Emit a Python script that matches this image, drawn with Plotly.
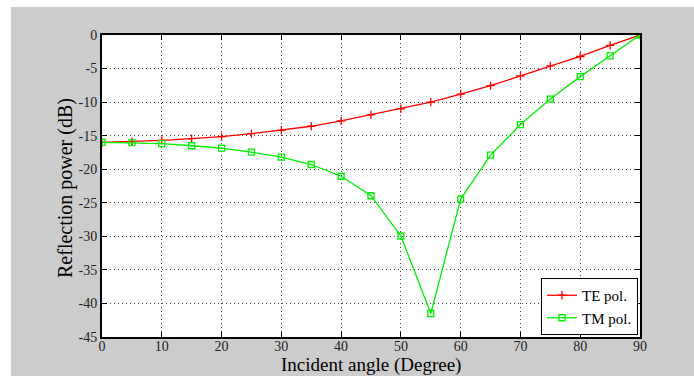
import plotly.graph_objects as go

angles = [0, 5, 10, 15, 20, 25, 30, 35, 40, 45, 50, 55, 60, 65, 70, 75, 80, 85, 90]
te_db = [-16.0, -15.9, -15.7, -15.45, -15.15, -14.7, -14.2, -13.6, -12.8, -11.9,
         -11.0, -10.0, -8.8, -7.55, -6.1, -4.6, -3.2, -1.55, 0.0]
tm_db = [-16.0, -16.05, -16.2, -16.5, -16.85, -17.45, -18.2, -19.3, -21.05, -23.95,
         -29.95, -41.5, -24.45, -17.9, -13.35, -9.55, -6.2, -3.1, 0.0]
x_ticks = list(range(0, 91, 10))
y_ticks = list(range(-45, 1, 5))
x_title = "Incident angle (Degree)"
y_title = "Reflection power (dB)"

W, H = 694, 376
L, R, T, B = 102, 640, 35, 337
pw, ph = R - L, B - T
SERIF = "Liberation Serif"

fig = go.Figure()
fig.add_trace(go.Scatter(x=angles, y=te_db, mode="lines+markers", name="TE pol.",
                         line=dict(color="#ff0000", width=1.3),
                         marker=dict(symbol="cross-thin", size=6, line=dict(color="#ff0000", width=1.3))))
fig.add_trace(go.Scatter(x=angles, y=tm_db, mode="lines+markers", name="TM pol.",
                         line=dict(color="#00ee00", width=1.3),
                         marker=dict(symbol="square-open", size=6, color="#00ee00", line=dict(width=1.3))))

fig.add_shape(type="rect", xref="paper", yref="paper", layer="below",
              x0=(11 - L) / pw, x1=(W + 5 - L) / pw, y0=(B - H - 5) / ph, y1=(B - 7) / ph,
              fillcolor="#cccccc", line=dict(width=0))
fig.add_shape(type="rect", xref="paper", yref="paper", layer="below",
              x0=0, x1=1, y0=0, y1=1, fillcolor="white", line=dict(width=0))

axis_common = dict(showline=True, linecolor="black", linewidth=2, mirror="ticks",
                   ticks="inside", ticklen=5, tickcolor="black", automargin=False,
                   showgrid=True, gridcolor="#444444", griddash="1px,3px", gridwidth=1,
                   zeroline=False, tickfont=dict(family=SERIF, size=14, color="#222222"))
fig.update_xaxes(range=[0, 90], tickvals=x_ticks, ticktext=[str(v) for v in x_ticks],
                 ticklabelstandoff=-5, **axis_common)
fig.update_yaxes(range=[-45, 0], tickvals=y_ticks, ticktext=[str(v) for v in y_ticks],
                 **axis_common)

fig.add_annotation(text=x_title, xref="paper", yref="paper", x=0.5, y=(B - 365) / ph,
                   xanchor="center", yanchor="middle", showarrow=False,
                   font=dict(family=SERIF, size=19, color="black"))
fig.add_annotation(text=y_title, xref="paper", yref="paper", x=(65 - L) / pw, y=(B - 188) / ph,
                   xanchor="center", yanchor="middle", showarrow=False, textangle=-90,
                   font=dict(family=SERIF, size=20, color="black"))

fig.update_layout(
    width=W, height=H,
    margin=dict(l=L, r=W - R, t=T, b=H - B, pad=0, autoexpand=False),
    paper_bgcolor="white", plot_bgcolor="white",
    showlegend=True,
    legend=dict(x=(638 - L) / pw, xanchor="right", y=(B - 335) / ph, yanchor="bottom",
                bgcolor="white", bordercolor="black", borderwidth=1,
                font=dict(family=SERIF, size=15, color="black"),
                tracegroupgap=0, itemwidth=30, entrywidth=100, entrywidthmode="pixels"),
)

fig.write_html("out.html")
